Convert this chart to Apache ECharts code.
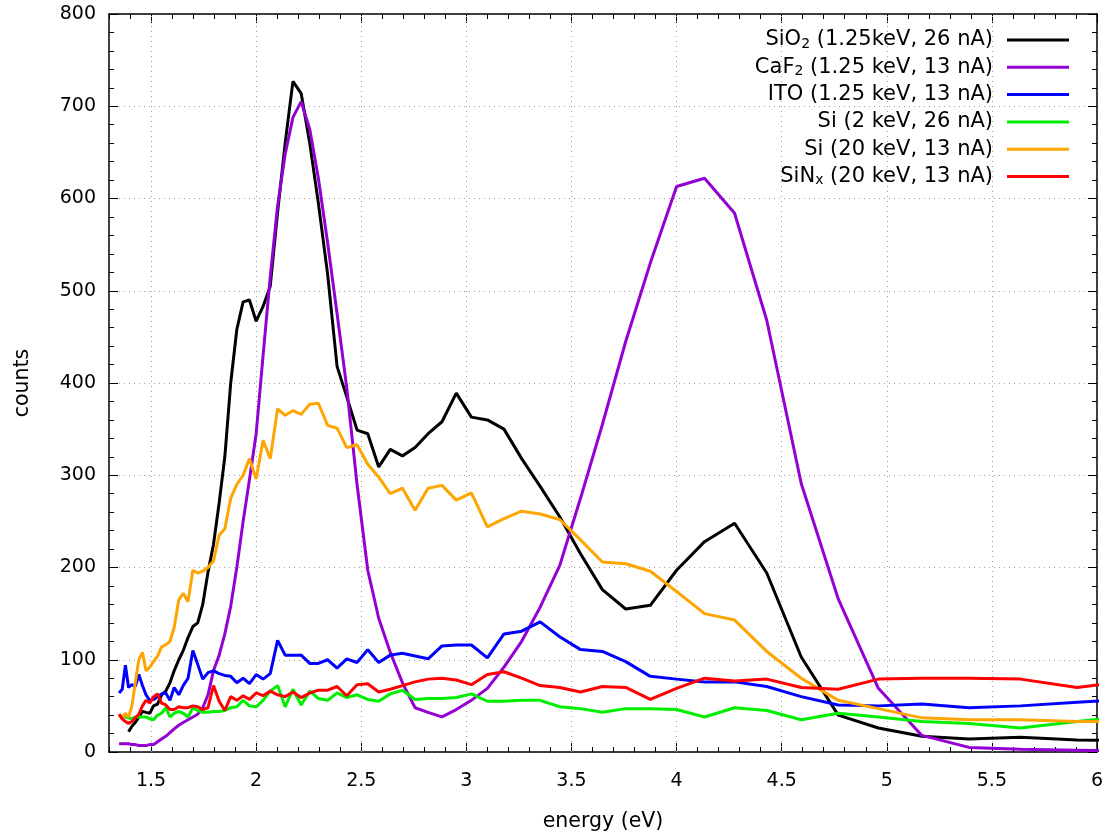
<!DOCTYPE html>
<html>
<head>
<meta charset="utf-8">
<script src="https://cdn.jsdelivr.net/npm/echarts@6/dist/echarts.min.js"></script>
<style>
  html, body { margin: 0; padding: 0; background: #fff; }
  #chart { width: 1108px; height: 839px; }
</style>
</head>
<body>
<div id="chart"></div>
<script>
// photon energy (eV), one point per 10 nm step
var energy = [1.348, 1.363, 1.378, 1.393, 1.409, 1.425, 1.442, 1.459, 1.476, 1.494,
  1.512, 1.531, 1.550, 1.570, 1.590, 1.610, 1.632, 1.653, 1.676, 1.699,
  1.722, 1.746, 1.771, 1.797, 1.824, 1.851, 1.879, 1.908, 1.938, 1.968,
  2.000, 2.033, 2.067, 2.102, 2.138, 2.175, 2.214, 2.255, 2.296, 2.340,
  2.385, 2.431, 2.480, 2.531, 2.583, 2.638, 2.696, 2.756, 2.818, 2.884,
  2.952, 3.024, 3.100, 3.179, 3.263, 3.351, 3.444, 3.543, 3.647, 3.758,
  3.875, 4.000, 4.133, 4.276, 4.429, 4.593, 4.769, 4.960, 5.167, 5.391,
  5.636, 5.905, 6.200]

var sio2 = [null, null, null, 22, 28, 32, 38, 44, 43, 42,
  50, 52, 62, 66, 75, 88, 100, 110, 124, 136,
  140, 160, 195, 225, 270, 320, 400, 458, 488, 490,
  467, 483, 505, 585, 660, 727, 714, 660, 595, 518,
  418, 385, 349, 345, 309, 328, 321, 330, 345, 358,
  389, 363, 360, 350, 318, 288, 255, 215, 176, 155,
  159, 197, 228, 248, 194, 103, 40, 26, 17, 14,
  16, 13, 12]

var caf2 = [9, 9, 9, 9, 8, 8, 7, 7, 7, 8,
  8, 11, 14, 17, 21, 25, 29, 32, 35, 38,
  41, 48, 62, 88, 105, 128, 158, 200, 250, 295,
  345, 430, 515, 592, 648, 688, 705, 675, 622, 552,
  475, 395, 290, 197, 145, 108, 75, 48, 43, 38,
  46, 56, 69, 92, 120, 157, 202, 275, 355, 445,
  530, 613, 622, 584, 468, 291, 166, 69, 18, 5,
  3, 2, 1]

var ito = [64, 68, 94, 70, 73, 71, 84, 72, 62, 56,
  57, 60, 63, 64, 56, 70, 62, 72, 80, 110,
  95, 79, 86, 88, 85, 83, 82, 75, 80, 74,
  84, 79, 85, 121, 105, 105, 105, 96, 96, 100,
  91, 101, 97, 111, 97, 105, 107, 104, 101, 115,
  116, 116, 102, 128, 131, 141, 125, 111, 109, 98,
  82, 79, 76, 76, 71, 60, 51, 50, 52, 48,
  50, 54, 58]

var si2 = [null, 40, 38, 37, 36, 38, 38, 38, 38, 36,
  35, 40, 42, 48, 38, 42, 44, 42, 38, 48,
  45, 43, 43, 44, 44, 45, 48, 49, 56, 50,
  49, 56, 66, 72, 49, 68, 51, 66, 58, 56,
  64, 59, 62, 57, 55, 63, 67, 57, 58, 58,
  59, 63, 55, 55, 56, 56, 49, 47, 43, 47,
  47, 46, 38, 48, 45, 35, 42, 38, 33, 31,
  26, 33, 40]

var si20 = [40, 36, 42, 38, 50, 75, 100, 108, 88, 92,
  98, 104, 114, 116, 120, 135, 165, 172, 163, 197,
  194, 196, 200, 207, 235, 242, 275, 290, 300, 318,
  296, 338, 318, 372, 365, 370, 366, 377, 378, 354,
  351, 330, 333, 312, 298, 280, 286, 262, 286, 289,
  273, 281, 244, 253, 261, 258, 252, 230, 206, 204,
  196, 174, 150, 143, 109, 80, 56, 47, 37, 35,
  35, 33, 33]

var sinx = [41, 36, 33, 31, 33, 37, 41, 50, 56, 53,
  60, 63, 53, 51, 46, 46, 49, 48, 48, 50,
  49, 46, 48, 72, 55, 45, 60, 56, 61, 57,
  64, 61, 66, 62, 60, 65, 59, 64, 67, 67,
  71, 61, 73, 74, 65, 68, 72, 76, 79, 80,
  78, 73, 84, 87, 80, 72, 70, 65, 71, 70,
  57, 69, 80, 77, 79, 70, 68, 79, 80, 80,
  79, 70, 78]

var seriesNames = ['SiO2 (1.25keV, 26 nA)', 'CaF2 (1.25 keV, 13 nA)', 'ITO (1.25 keV, 13 nA)',
  'Si (2 keV, 26 nA)', 'Si (20 keV, 13 nA)', 'SiNx (20 keV, 13 nA)']
// legend text split as [before subscript, subscript, after]
var legendParts = [['SiO', '2', ' (1.25keV, 26 nA)'], ['CaF', '2', ' (1.25 keV, 13 nA)'],
  ['ITO (1.25 keV, 13 nA)', '', ''], ['Si (2 keV, 26 nA)', '', ''],
  ['Si (20 keV, 13 nA)', '', ''], ['SiN', 'x', ' (20 keV, 13 nA)']]
var seriesColors = ['#000000', '#9400d3', '#0000ff', '#00ee00', '#ffa500', '#ff0000']
var seriesValues = [sio2, caf2, ito, si2, si20, sinx]

var xTicks = [1.5, 2, 2.5, 3, 3.5, 4, 4.5, 5, 5.5, 6]
var xGrid = [1.5, 2, 2.5, 3, 3.5, 4, 4.5, 5, 5.5]

var FONT = 'DejaVu Sans'
var chart = echarts.init(document.getElementById('chart'))

function pairs(vals) {
  var out = []
  for (var i = 0; i < energy.length; i++) {
    if (vals[i] != null) out.push([energy[i], vals[i]])
  }
  return out
}

var gridLine = { color: '#a0a0a0', type: [1, 4], width: 1 }
var axisBlack = { color: '#000', width: 1.5 }

function xMajor(pos, withLabels) {
  return {
    type: 'value', position: pos, min: 1.3, max: 6,
    axisLine: { show: true, onZero: false, lineStyle: axisBlack },
    axisTick: { show: true, inside: true, length: 9, customValues: xTicks, lineStyle: { color: '#000', width: 1 } },
    axisLabel: withLabels ? { show: true, customValues: xTicks, margin: 20, fontSize: 19, fontFamily: FONT, color: '#000' } : { show: false },
    splitLine: { show: false }
  }
}
function xMinor(pos) {
  return {
    type: 'value', position: pos, min: 1.3, max: 6, interval: 0.1,
    axisLine: { show: false, onZero: false },
    axisTick: { show: true, inside: true, length: 5, lineStyle: { color: '#000', width: 1 } },
    axisLabel: { show: false },
    splitLine: { show: false }
  }
}
function yAxis(pos, withLabels) {
  return {
    type: 'value', position: pos, min: 0, max: 800, interval: 100,
    axisLine: { show: true, lineStyle: axisBlack },
    axisTick: { show: true, inside: true, length: 9, lineStyle: { color: '#000', width: 1 } },
    minorTick: { show: true, splitNumber: 5, length: 5, lineStyle: { color: '#000', width: 1 } },
    axisLabel: withLabels ? { show: true, margin: 13, fontSize: 19, fontFamily: FONT, color: '#000' } : { show: false },
    splitLine: { show: withLabels, lineStyle: gridLine }
  }
}

var xAxes = [xMajor('bottom', true), xMinor('bottom'), xMajor('top', false), xMinor('top')]
xAxes[0].name = 'energy (eV)'
xAxes[0].nameLocation = 'middle'
xAxes[0].nameGap = 59
xAxes[0].nameTextStyle = { fontSize: 20.5, fontFamily: FONT, color: '#000' }

var yAxes = [yAxis('left', true), yAxis('right', false)]
yAxes[0].name = 'counts'
yAxes[0].nameLocation = 'middle'
yAxes[0].nameGap = 76
yAxes[0].nameTextStyle = { fontSize: 20.5, fontFamily: FONT, color: '#000' }

var series = seriesNames.map(function (name, k) {
  var s = {
    name: name,
    type: 'line',
    xAxisIndex: 0,
    yAxisIndex: 0,
    data: pairs(seriesValues[k]),
    showSymbol: false,
    symbol: 'none',
    color: seriesColors[k],
    lineStyle: { width: 3, color: seriesColors[k] },
    emphasis: { disabled: true },
    z: 3
  }
  if (k === 0) {
    s.markLine = {
      silent: true, symbol: 'none', z: 1, animation: false,
      label: { show: false },
      lineStyle: gridLine,
      data: xGrid.map(function (v) { return { xAxis: v } })
    }
  }
  return s
})

var option = {
  animation: false,
  backgroundColor: '#fff',
  grid: { left: 109, right: 11, top: 14, bottom: 87, outerBoundsMode: 'none' },
  xAxis: xAxes,
  yAxis: yAxes,
  legend: {
    orient: 'vertical', right: 39, top: 29, padding: 0, align: 'right',
    itemWidth: 62, itemHeight: 3, itemGap: 5.3, icon: 'rect',
    selectedMode: false,
    data: seriesNames,
    formatter: function (name) {
      var p = legendParts[seriesNames.indexOf(name)]
      var txt = '{t|' + p[0] + '}'
      if (p[1]) txt += '{sub|' + p[1] + '}{t|' + p[2] + '}'
      return txt + '{gap|}'
    },
    textStyle: {
      fontFamily: FONT, fontSize: 21, color: '#000', lineHeight: 22,
      rich: {
        t: { fontFamily: FONT, fontSize: 21, color: '#000', lineHeight: 22 },
        sub: { fontFamily: FONT, fontSize: 14, color: '#000', lineHeight: 10, verticalAlign: 'bottom' },
        gap: { width: 9, lineHeight: 22 }
      }
    }
  },
  series: series
}

chart.setOption(option)
</script>
</body>
</html>
